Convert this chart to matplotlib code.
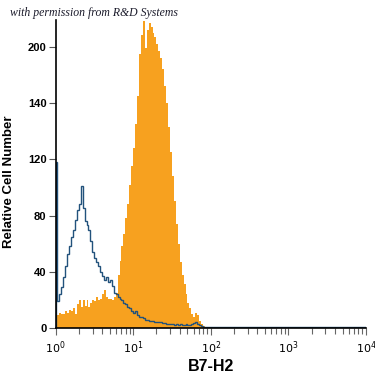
import numpy as np
import matplotlib
matplotlib.use("Agg")
from matplotlib import pyplot as plt
from matplotlib.ticker import FixedLocator, LogLocator, NullFormatter

# channel edges in decades (log10 of fluorescence), 0.025 decade per channel up to 10^2,
# then one wide channel up to 10^4
BIN_STEP = 0.025
decade_edges = np.append(np.arange(0, 2.0 + BIN_STEP / 2, BIN_STEP), 4.0)

# B7-H2 stained cells (filled orange)
stained_counts = [
    8, 9, 11, 10, 10, 12, 11, 13, 12, 14,
    10, 17, 20, 15, 20, 16, 20, 15, 18, 20,
    19, 22, 20, 21, 24, 27, 22, 21, 21, 20,
    22, 25, 38, 48, 58, 67, 78, 88, 102, 115,
    128, 145, 165, 195, 208, 218, 199, 212, 217, 214,
    210, 207, 202, 197, 192, 184, 172, 160, 143, 125,
    108, 90, 74, 60, 47, 38, 31, 24, 18, 14,
    10, 8, 11, 9, 5, 3, 1.5, 0.5, 0, 0,
    0,
]

# isotype control (open blue line)
control_counts = [
    118, 19, 24, 29, 36, 44, 53, 58, 65, 70,
    77, 84, 88, 101, 85, 76, 73, 70, 62, 54,
    50, 47, 44, 40, 37, 34, 36, 33, 34, 30,
    25, 24, 22, 21, 20, 18, 17, 15, 14, 12,
    11, 12, 9, 8, 8, 7, 6, 6, 5, 5,
    5, 4.5, 4, 4, 4.5, 3.5, 3.5, 3, 3, 3,
    3, 2.5, 3, 2.5, 3, 2.5, 2.5, 3, 2.5, 2.5,
    3, 3.5, 4.5, 3, 2, 1.5, 1, 0.8, 0.6, 0.5,
    0.5,
]

y_ticks = [0, 40, 80, 120, 160, 200]
y_tick_labels = ["0", "40", "80", "120", "140", "200"]
x_decades = [0, 1, 2, 3, 4]

ORANGE = "#f7a11f"
BLUE = "#22527c"
NARROW = ["Liberation Sans Narrow", "DejaVu Sans Condensed", "Liberation Sans", "DejaVu Sans"]

fig = plt.figure(figsize=(3.75, 3.75), dpi=100)
ax = fig.add_axes([0.148, 0.125, 0.828, 0.822])

edges = 10.0 ** decade_edges
ax.stairs(stained_counts, edges, fill=True, color=ORANGE, lw=0)
ax.stairs(control_counts, edges, color=BLUE, lw=1.0)

ax.set_xscale("log")
ax.set_xlim(1, 1e4)
ax.set_ylim(0, 219)

ax.spines["top"].set_visible(False)
ax.spines["right"].set_visible(False)
ax.spines["left"].set_linewidth(1.2)
ax.spines["bottom"].set_linewidth(1.2)

ax.yaxis.set_major_locator(FixedLocator(y_ticks))
ax.set_yticklabels(y_tick_labels, fontweight="bold", fontsize=8, family=NARROW,
                   fontstretch="condensed")
ax.tick_params(axis="y", length=5, width=0.8, color="#555555", pad=1.5)

ax.xaxis.set_major_locator(FixedLocator([10.0 ** d for d in x_decades]))
ax.set_xticklabels([f"$10^{d}$" for d in x_decades], fontsize=8)
ax.xaxis.set_minor_locator(LogLocator(base=10, subs=np.arange(2, 10), numticks=20))
ax.xaxis.set_minor_formatter(NullFormatter())
ax.tick_params(axis="x", which="major", length=5, width=0.8, color="#666666", pad=3)
ax.tick_params(axis="x", which="minor", length=4, width=0.8, color="#666666")

ax.set_ylabel("Relative Cell Number", fontsize=9.5, fontweight="bold", family=NARROW,
              fontstretch="condensed")
ax.yaxis.set_label_coords(-0.13, 0.475)
ax.set_xlabel("B7-H2", fontsize=11.5, fontweight="bold", family=NARROW,
              fontstretch="condensed", labelpad=2)

fig.text(0.027, 0.957, "with permission from R&D Systems", fontsize=8.5,
         style="italic", family=["Liberation Serif", "DejaVu Serif"], color="#1a1a2a")

fig.savefig("out.png", dpi=100)
